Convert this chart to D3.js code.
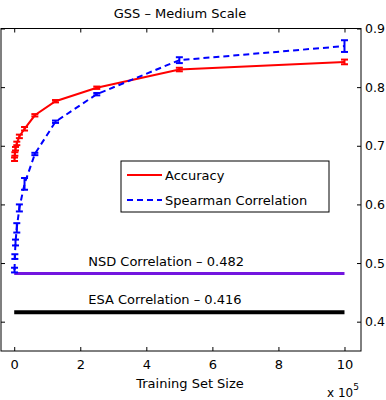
<!DOCTYPE html>
<html><head><meta charset="utf-8">
<script src="https://cdn.jsdelivr.net/npm/d3@7"></script>
<style>
body{margin:0;background:#fff;}
text{font-family:"DejaVu Sans",Arial,Helvetica,sans-serif;fill:#000;}
</style></head>
<body><svg id="c" width="386" height="400"></svg>
<script>
const trainingSizes = [976,1953,3906,7812,15625,31250,62500,125000,250000,500000,1000000];
const accuracy      = [0.677,0.686,0.695,0.704,0.716,0.729,0.752,0.776,0.799,0.830,0.843];
const accuracyErr   = [0.003,0.003,0.003,0.003,0.003,0.003,0.002,0.002,0.002,0.003,0.004];
const spearman      = [0.488,0.511,0.535,0.560,0.594,0.635,0.686,0.741,0.788,0.846,0.870];
const spearmanErr   = [0.004,0.004,0.005,0.008,0.006,0.010,0.002,0.002,0.002,0.005,0.010];
const xTicks = [0,2,4,6,8,10];
const yTicks = [0.4,0.5,0.6,0.7,0.8,0.9];
const baselines = [
  {name:"NSD Correlation \u2013 0.482", value:0.482, color:"#7316df"},
  {name:"ESA Correlation \u2013 0.416", value:0.416, color:"#000000"}
];
const titleText = "GSS \u2013 Medium Scale";
const xLabel = "Training Set Size";

const svg = d3.select("#c");
const L=1,R=361,T=28.5,B=351;
const x = d3.scaleLinear().domain([-0.4,10.5]).range([L,R]);
const y = d3.scaleLinear().domain([0.35,0.9]).range([B,T]);
const xs = trainingSizes.map(v=>v/1e5);
const FONT = "DejaVu Sans, Arial, sans-serif";

// frame
svg.append("rect").attr("x",L).attr("y",T).attr("width",R-L).attr("height",B-T)
  .attr("fill","none").attr("stroke","#000").attr("stroke-width",1);

// axes
const fs = 13;
const xb = svg.append("g").attr("transform",`translate(0,${B})`)
  .call(d3.axisBottom(x).tickValues(xTicks).tickSize(-4).tickPadding(9).tickFormat(d3.format("d")));
const xt = svg.append("g").attr("transform",`translate(0,${T})`)
  .call(d3.axisTop(x).tickValues(xTicks).tickSize(-4).tickFormat(""));
const yr = svg.append("g").attr("transform",`translate(${R},0)`)
  .call(d3.axisRight(y).tickValues(yTicks).tickSize(-4).tickPadding(4).tickFormat(d3.format(".1f")));
const yl = svg.append("g").attr("transform",`translate(${L},0)`)
  .call(d3.axisLeft(y).tickValues(yTicks).tickSize(-4).tickFormat(""));
[xb,xt,yr,yl].forEach(g=>{
  g.select(".domain").remove();
  g.selectAll("line").attr("stroke","#000");
  g.selectAll("text").attr("font-size",fs).attr("font-family",FONT);
});
yr.selectAll("text").attr("font-size",12.5);

// baselines
baselines.forEach(b=>{
  svg.append("line").attr("x1",x(0)).attr("x2",x(10)).attr("y1",y(b.value)).attr("y2",y(b.value))
    .attr("stroke",b.color).attr("stroke-width",b.color==="#000000"?4:3);
  svg.append("text").attr("x",x(2.24)).attr("y",y(b.value)-8).attr("font-size",fs).text(b.name);
});

function series(vals, errs, color, dash){
  const line = d3.line().x((d,i)=>x(xs[i])).y(d=>y(d));
  svg.append("path").datum(vals).attr("d",line).attr("fill","none")
    .attr("stroke",color).attr("stroke-width",2).attr("stroke-dasharray",dash);
  const g = svg.append("g").attr("stroke",color).attr("stroke-width",2);
  vals.forEach((v,i)=>{
    const cx = x(xs[i]), e = errs[i];
    g.append("line").attr("x1",cx).attr("x2",cx).attr("y1",y(v-e)).attr("y2",y(v+e));
    g.append("line").attr("x1",cx-3.5).attr("x2",cx+3.5).attr("y1",y(v-e)).attr("y2",y(v-e));
    g.append("line").attr("x1",cx-3.5).attr("x2",cx+3.5).attr("y1",y(v+e)).attr("y2",y(v+e));
  });
}
series(accuracy, accuracyErr, "#ff0000", null);
series(spearman, spearmanErr, "#0000ff", "6,4");

// legend
const lg = svg.append("g");
lg.append("rect").attr("x",121).attr("y",161).attr("width",208).attr("height",51)
  .attr("fill","#fff").attr("stroke","#000").attr("stroke-width",1);
[["Accuracy","#ff0000",null],["Spearman Correlation","#0000ff","6,4"]].forEach((d,i)=>{
  const yy = 175 + i*25;
  lg.append("line").attr("x1",127).attr("x2",162).attr("y1",yy).attr("y2",yy)
    .attr("stroke",d[1]).attr("stroke-width",2).attr("stroke-dasharray",d[2]);
  lg.append("text").attr("x",165).attr("y",yy).attr("dy","0.35em").attr("font-size",fs).text(d[0]);
});

// titles
svg.append("text").attr("x",180).attr("y",18).attr("text-anchor","middle").attr("font-size",fs).text(titleText);
svg.append("text").attr("x",190).attr("y",388).attr("text-anchor","middle").attr("font-size",fs).text(xLabel);
const ex = svg.append("text").attr("x",327).attr("y",397).attr("font-size",12);
ex.append("tspan").text("x 10");
ex.append("tspan").attr("dy",-7).attr("font-size",9).text("5");
</script></body></html>
